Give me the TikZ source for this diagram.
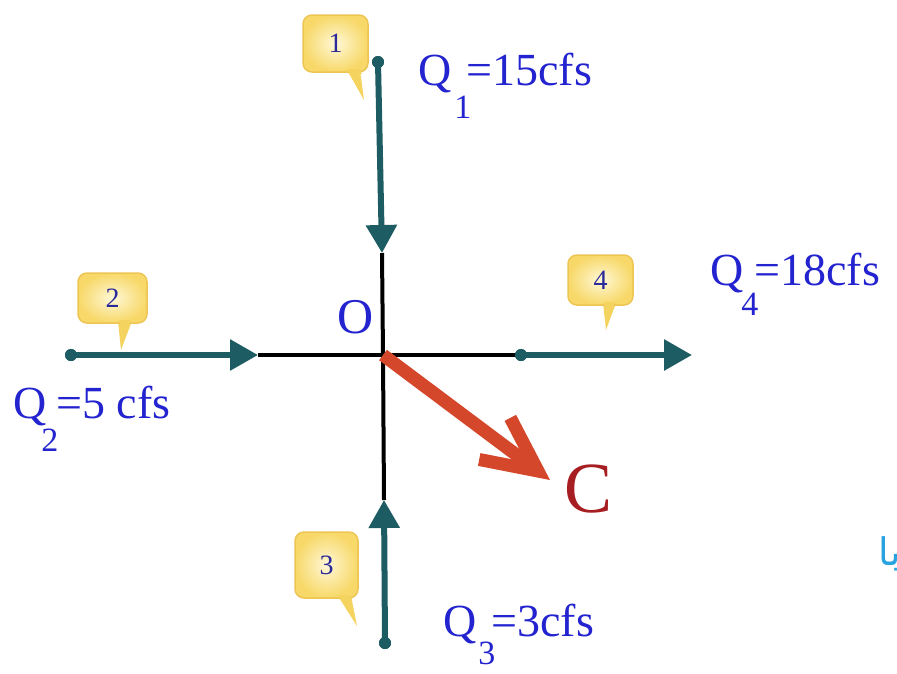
\documentclass[tikz,border=0pt]{standalone}
\usepackage{fontspec}
\setmainfont{Liberation Serif}
\newfontfamily\arabicfont[Script=Arabic]{DejaVu Sans}
\TeXXeTstate=1
\usetikzlibrary{arrows.meta}
\definecolor{tealc}{HTML}{1D5C62}
\definecolor{qblue}{HTML}{2323CF}
\definecolor{numblue}{HTML}{2A2A9A}
\definecolor{redarrow}{HTML}{D4472A}
\definecolor{cred}{HTML}{A61E22}
\definecolor{arabblue}{HTML}{29A3E0}
\definecolor{boxedge}{HTML}{EDC553}
\definecolor{boxin}{HTML}{FFF8D6}
\definecolor{boxout}{HTML}{F7D868}
\definecolor{tailc}{HTML}{F4D35E}
\newcommand{\subq}[2][-33pt]{\raisebox{#1}{\fontsize{34}{36}\selectfont #2}}
\tikzset{
  flow/.style={draw=tealc, line width=6pt, -{Triangle[length=28pt,width=30pt]}},
  axisline/.style={draw=black, line width=4pt},
  dotn/.style={circle, fill=tealc, inner sep=0pt, minimum size=12pt},
  qlabel/.style={anchor=base west, inner sep=0pt, text=qblue, font=\fontsize{46}{50}\selectfont},
  callbox/.style={rounded corners=9pt, draw=boxedge, line width=1.5pt, shade, shading=radial,
    inner color=boxin, outer color=boxout, inner sep=0pt,
    text=numblue, font=\fontsize{28}{30}\selectfont},
  tail/.style={fill=tailc},
  redflow/.style={draw=redarrow, line width=13pt, -{Straight Barb[length=54pt,width=52pt]}},
}
\begin{document}
\begin{tikzpicture}[x=1pt,y=-1pt]
\useasboundingbox (0,0) rectangle (897,673);
% key points
\coordinate (O) at (383,355);
\coordinate (t1) at (382,253);
\coordinate (t2) at (258,355);
\coordinate (t3) at (384,500);
\coordinate (t4) at (692,355);
\coordinate (Cend) at (550,480);
\node[dotn] (d1) at (378,62) {};
\node[dotn] (d2) at (71,355) {};
\node[dotn] (d3) at (385,643) {};
\node[dotn] (d4) at (521,355) {};
% black cross
\draw[axisline] (t1) -- (O) -- (t3);
\draw[axisline] (t2) -- (O) -- (d4.center);
% teal flows
\draw[flow] (d1.center) -- (t1);
\draw[flow] (d2.center) -- (t2);
\draw[flow] (d3.center) -- (t3);
\draw[flow] (d4.center) -- (t4);
\node[dotn] at (d1) {};
\node[dotn] at (d2) {};
\node[dotn] at (d3) {};
\node[dotn] at (d4) {};
% resultant arrow
\draw[redflow] (O) -- (Cend);
\node[anchor=base, inner sep=0pt, text=cred, font=\fontsize{72}{74}\selectfont] (C) at (589,512) {C};
\node[anchor=base, inner sep=0pt, text=qblue, font=\fontsize{50}{52}\selectfont] (Olab) at (355.5,333) {O};
% callouts
\fill[tail] (347,70) -- (360,70) -- (364,100) -- cycle;
\node[callbox, minimum width=65pt, minimum height=57pt] (b1) at (335.5,43.5) {1};
\fill[tail] (118,321) -- (132,321) -- (121,350) -- cycle;
\node[callbox, minimum width=69pt, minimum height=50pt] (b2) at (112.5,298) {2};
\fill[tail] (338,596) -- (351,596) -- (357,626) -- cycle;
\node[callbox, minimum width=63pt, minimum height=66pt] (b3) at (326.5,565) {3};
\fill[tail] (603,303) -- (616,303) -- (606,330) -- cycle;
\node[callbox, minimum width=65pt, minimum height=50pt] (b4) at (600.5,280) {4};
\fill[tail] (348,69) -- (359,69) -- (362,74) -- (349,74) -- cycle;
\fill[tail] (119,320) -- (131,320) -- (129,326) -- (120,326) -- cycle;
\fill[tail] (339,595) -- (350,595) -- (352,600) -- (340,600) -- cycle;
\fill[tail] (604,302) -- (615,302) -- (613,308) -- (605,308) -- cycle;
% flow labels
\node[qlabel] (q1) at (418,85) {Q\kern3pt\subq{1}\kern-5pt=15cfs};
\node[qlabel] (q2) at (13,418) {Q\kern-5pt\subq{2}\kern-2pt=5 cfs};
\node[qlabel] (q3) at (443,636) {Q\kern2pt\subq[-28pt]{3}\kern-4pt=3cfs};
\node[qlabel] (q4) at (710,285) {Q\kern-2pt\subq[-30pt]{4}\kern-4pt=18cfs};
% clipped Arabic text at the right edge
\node[anchor=base east, inner sep=0pt, text=arabblue, font=\fontsize{38}{40}\selectfont] (ar) at (901,565) {\arabicfont\beginR با\endR};
\end{tikzpicture}
\end{document}
